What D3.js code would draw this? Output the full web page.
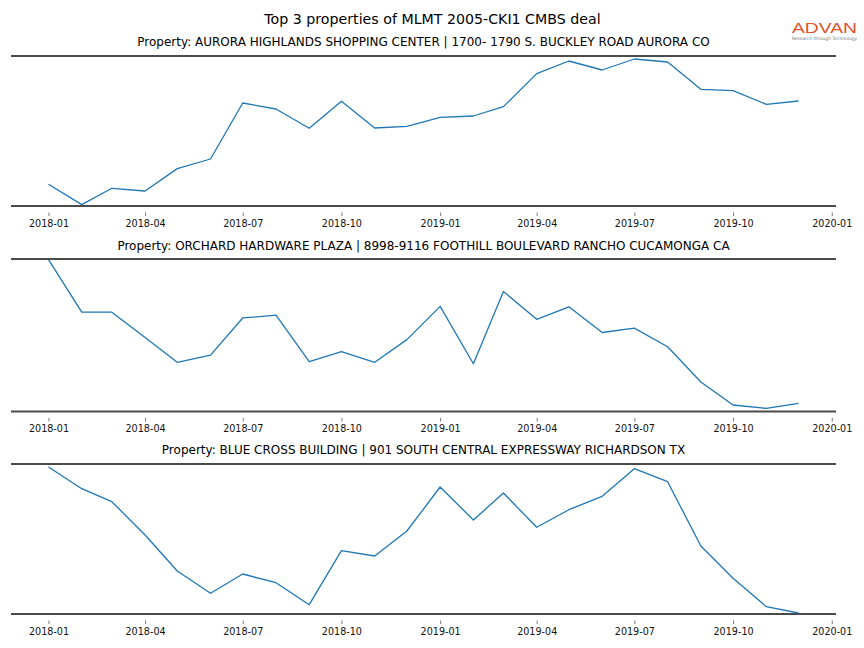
<!DOCTYPE html>
<html>
<head>
<meta charset="utf-8">
<script src="https://cdn.jsdelivr.net/npm/d3@7"></script>
<style>
  html, body { margin: 0; padding: 0; background: #fff; }
  svg { display: block; font-family: "DejaVu Sans", sans-serif; }
</style>
</head>
<body>
<svg id="chart" width="864" height="648"></svg>
<script>
// ---- data ----
const months = ["2018-01","2018-02","2018-03","2018-04","2018-05","2018-06","2018-07","2018-08","2018-09","2018-10","2018-11","2018-12",
                "2019-01","2019-02","2019-03","2019-04","2019-05","2019-06","2019-07","2019-08","2019-09","2019-10","2019-11","2019-12"];
const tickLabels = ["2018-01","2018-04","2018-07","2018-10","2019-01","2019-04","2019-07","2019-10","2020-01"];
const mainTitle = "Top 3 properties of MLMT 2005-CKI1 CMBS deal";
const propertyTitles = [
  "Property: AURORA HIGHLANDS SHOPPING CENTER | 1700- 1790 S. BUCKLEY ROAD AURORA CO",
  "Property: ORCHARD HARDWARE PLAZA | 8998-9116 FOOTHILL BOULEVARD RANCHO CUCAMONGA CA",
  "Property: BLUE CROSS BUILDING | 901 SOUTH CENTRAL EXPRESSWAY RICHARDSON TX"
];
const auroraValues = [21.7,1.4,17.7,15,37.4,47,103,97,77.7,104.7,78,79.7,88.7,90,99.4,132.4,145,136,147,144,116.7,115.4,101.7,105];
const orchardValues = [149.4,97.7,97.7,72.7,48.4,55.4,92,94.7,49,59,48.4,70.7,103.4,47,118,90.7,103,77.7,82,63.7,29,6.4,3,8];
const blueCrossValues = [147,125.3,112.3,79,43,20.7,40,31.3,9.3,63.3,58,83,127,94,121,86.7,104.3,117.7,145.3,132.3,68,35.7,7.3,1];
const seriesList = [auroraValues, orchardValues, blueCrossValues];

// ---- layout ----
const svg = d3.select("#chart");
const parse = d3.timeParse("%Y-%m");
const dates = months.map(parse);
const tickDates = tickLabels.map(parse);
const left = 11, right = 836;
const panels = [
  {top: 56, bottom: 206, titleY: 46},
  {top: 259, bottom: 411.5, titleY: 250},
  {top: 464, bottom: 614, titleY: 454}
];

// x scale with matplotlib-like 5% margins
const dMin = dates[0], dMax = dates[dates.length - 1];
const span = dMax - dMin;
const x = d3.scaleTime()
  .domain([new Date(+dMin - span * 0.05), new Date(+dMax + span * 0.05)])
  .range([left, right]);

svg.append("text")
  .attr("x", 432.5).attr("y", 24)
  .attr("text-anchor", "middle")
  .attr("font-size", 14.2)
  .attr("fill", "#000")
  .text(mainTitle);

// logo
const logo = svg.append("g");
logo.append("text")
  .attr("x", 792).attr("y", 32.5)
  .attr("font-size", 15.5)
  .attr("font-weight", 500)
  .attr("font-family", "Liberation Sans, Arial, sans-serif")
  .attr("fill", "#e2522b")
  .attr("textLength", 65).attr("lengthAdjust", "spacingAndGlyphs")
  .text("ADVAN");
logo.append("text")
  .attr("x", 792).attr("y", 40)
  .attr("font-size", 4.5)
  .attr("fill", "#777")
  .attr("textLength", 65).attr("lengthAdjust", "spacingAndGlyphs")
  .text("Research through Technology");

panels.forEach((p, i) => {
  const vals = seriesList[i];
  const y = d3.scaleLinear().domain([0, 150]).range([p.bottom, p.top]);
  const g = svg.append("g");

  g.append("text")
    .attr("x", (left + right) / 2).attr("y", p.titleY)
    .attr("text-anchor", "middle")
    .attr("font-size", 12)
    .attr("fill", "#000")
    .text(propertyTitles[i]);

  // spines
  [p.top, p.bottom].forEach(yy => {
    g.append("line")
      .attr("x1", left).attr("x2", right)
      .attr("y1", yy).attr("y2", yy)
      .attr("stroke", "#4a4a4a").attr("stroke-width", 2);
  });

  // x axis
  const axis = d3.axisBottom(x)
    .tickValues(tickDates)
    .tickFormat((d, k) => tickLabels[k])
    .tickSize(3.5).tickPadding(4);
  const ax = g.append("g")
    .attr("transform", `translate(0,${p.bottom + 6.5})`)
    .call(axis);
  ax.select(".domain").remove();
  ax.selectAll(".tick line").attr("stroke", "#555").attr("stroke-width", 0.8);
  ax.selectAll(".tick text")
    .attr("font-size", 9.6)
    .attr("font-family", "DejaVu Sans, sans-serif")
    .attr("fill", "#111");

  const line = d3.line()
    .x((d, k) => x(dates[k]))
    .y(d => y(d));
  g.append("path")
    .datum(vals)
    .attr("d", line)
    .attr("fill", "none")
    .attr("stroke", "#1f77b4")
    .attr("stroke-width", 1.3)
    .attr("stroke-linejoin", "round");
});
</script>
</body>
</html>
